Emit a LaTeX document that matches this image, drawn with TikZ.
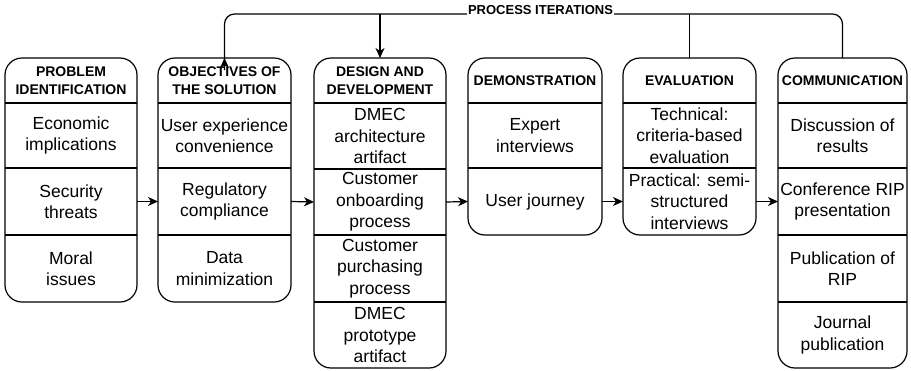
\documentclass[tikz,border=0pt]{standalone}
\usepackage{fontspec}
\setmainfont{Liberation Sans}
\usetikzlibrary{arrows.meta}
\begin{document}
\begin{tikzpicture}[x=1pt,y=-1pt,
  outl/.style={line width=1.2pt, rounded corners=17pt},
  divl/.style={line width=1.2pt},
  hdr/.style={inner sep=0pt, outer sep=0pt, align=center, minimum height=45pt,
    font=\fontsize{14pt}{17.5pt}\selectfont\bfseries},
  cell/.style={inner sep=0pt, outer sep=0pt, align=center,
    font=\fontsize{17.5pt}{21.5pt}\selectfont},
  arr/.style={line width=1.2pt, -{Stealth[length=10pt,width=9pt,inset=3pt]}},
  fb/.style={line width=1.2pt, rounded corners=10pt},
  lbl/.style={fill=white, inner sep=1pt, font=\fontsize{13pt}{15pt}\selectfont\bfseries}
]
\useasboundingbox (0,0) rectangle (911,370);

% Column 1
\node[hdr, minimum width=132pt] (c1h) at (71,80.5) {PROBLEM\\IDENTIFICATION};
\node[cell, minimum width=132pt, minimum height=65pt] (c1a) at (71,135.5) {Economic\\implications};
\node[cell, minimum width=132pt, minimum height=67pt] (c1b) at (71,201.5) {Security\\threats};
\node[cell, minimum width=132pt, minimum height=67pt] (c1c) at (71,268.5) {Moral\\issues};

% Column 2
\node[hdr, minimum width=133pt] (c2h) at (224.5,80.5) {OBJECTIVES OF\\THE SOLUTION};
\node[cell, minimum width=133pt, minimum height=65pt] (c2a) at (224.5,135.5) {User experience\\convenience};
\node[cell, minimum width=133pt, minimum height=67pt] (c2b) at (224.5,201.5) {Regulatory\\compliance};
\node[cell, minimum width=133pt, minimum height=67pt] (c2c) at (224.5,268.5) {Data\\minimization};

% Column 3
\node[hdr, minimum width=132pt] (c3h) at (380,80.5) {DESIGN AND\\DEVELOPMENT};
\node[cell, minimum width=132pt, minimum height=66pt] (c3a) at (380,136) {DMEC\\architecture\\artifact};
\node[cell, minimum width=132pt, minimum height=66pt] (c3b) at (380,202) {Customer\\onboarding\\process};
\node[cell, minimum width=132pt, minimum height=67pt] (c3c) at (380,268.5) {Customer\\purchasing\\process};
\node[cell, minimum width=132pt, minimum height=66pt] (c3d) at (380,335) {DMEC\\prototype\\artifact};

% Column 4
\node[hdr, minimum width=134pt] (c4h) at (535,80.5) {DEMONSTRATION};
\node[cell, minimum width=134pt, minimum height=65pt] (c4a) at (535,135.5) {Expert\\interviews};
\node[cell, minimum width=134pt, minimum height=67pt] (c4b) at (535,201.5) {User journey};

% Column 5
\node[hdr, minimum width=133pt] (c5h) at (689.5,80.5) {EVALUATION};
\node[cell, minimum width=133pt, minimum height=65pt] (c5a) at (689.5,135.5) {Technical:\\criteria-based\\evaluation};
\node[cell, minimum width=133pt, minimum height=67pt] (c5b) at (689.5,201.5) {Practical: semi-\\structured\\interviews};

% Column 6
\node[hdr, minimum width=129pt] (c6h) at (842.5,80.5) {COMMUNICATION};
\node[cell, minimum width=129pt, minimum height=65pt] (c6a) at (842.5,135.5) {Discussion of\\results};
\node[cell, minimum width=129pt, minimum height=67pt] (c6b) at (842.5,201.5) {Conference RIP\\presentation};
\node[cell, minimum width=129pt, minimum height=67pt] (c6c) at (842.5,268.5) {Publication of\\RIP};
\node[cell, minimum width=129pt, minimum height=66pt] (c6d) at (842.5,335) {Journal\\publication};

% Outlines
\draw[outl] (c1h.north) -- (c1h.north east) -- (c1c.south east) -- (c1c.south west) -- (c1h.north west) -- cycle;
\draw[outl] (c2h.north) -- (c2h.north east) -- (c2c.south east) -- (c2c.south west) -- (c2h.north west) -- cycle;
\draw[outl] (c3h.north) -- (c3h.north east) -- (c3d.south east) -- (c3d.south west) -- (c3h.north west) -- cycle;
\draw[outl] (c4h.north) -- (c4h.north east) -- (c4b.south east) -- (c4b.south west) -- (c4h.north west) -- cycle;
\draw[outl] (c5h.north) -- (c5h.north east) -- (c5b.south east) -- (c5b.south west) -- (c5h.north west) -- cycle;
\draw[outl] (c6h.north) -- (c6h.north east) -- (c6d.south east) -- (c6d.south west) -- (c6h.north west) -- cycle;

% Dividers
\foreach \n in {c1h,c1a,c1b,c2h,c2a,c2b,c3h,c3a,c3b,c3c,c4h,c4a,c5h,c5a,c6h,c6a,c6b,c6c}
  \draw[divl] (\n.south west) -- (\n.south east);

% Flow arrows
\draw[arr] (c1b.east) -- (c2b.west);
\draw[arr] (c2b.east) -- (c3b.west);
\draw[arr] (c3b.east) -- (c4b.west);
\draw[arr] (c4b.east) -- (c5b.west);
\draw[arr] (c5b.east) -- (c6b.west);

% Feedback loop
\coordinate (t6) at (842.5,14);
\coordinate (t2) at (224.5,14);
\coordinate (t3) at (380,14);
\coordinate (t5) at (689.5,14);
\draw[fb] (c6h.north) -- (t6) -- (t2) -- ([yshift=-12pt]c2h.north);
\draw[arr] ([yshift=-12pt]c2h.north) -- (c2h.north);
\draw[arr] (t3) -- (c3h.north);
\draw[divl] (c5h.north) -- (t5);
\node[lbl, anchor=base] (lab) at (540.5,14) {PROCESS ITERATIONS};
\end{tikzpicture}
\end{document}
